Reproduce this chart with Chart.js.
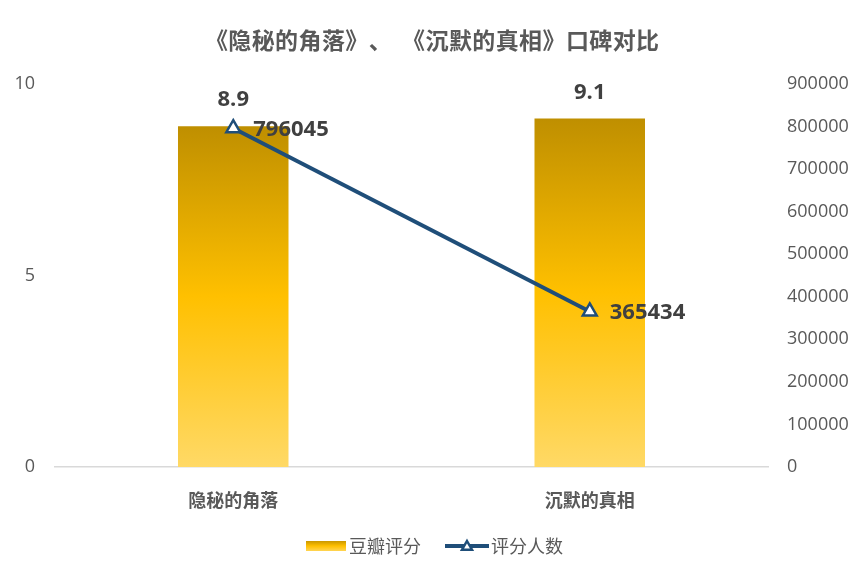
<!DOCTYPE html>
<html>
<head>
<meta charset="utf-8">
<script src="https://cdn.jsdelivr.net/npm/chart.js@4"></script>
<style>
html,body{margin:0;padding:0;background:#fff;}
#wrap{width:865px;height:577px;}
</style>
</head>
<body>
<div id="wrap"><canvas id="c" width="865" height="577"></canvas></div>
<script>
const titleText = '《隐秘的角落》、《沉默的真相》口碑对比';
const categories = ['隐秘的角落', '沉默的真相'];
const doubanScores = [8.9, 9.1];
const ratingCounts = [796045, 365434];
const seriesNames = ['豆瓣评分', '评分人数'];
const leftTicks = [0, 5, 10];
const rightMax = 900000;
const rightStep = 100000;

const FONT = '"Noto Sans CJK SC", "Noto Sans", sans-serif';
const NUMFONT = '"Open Sans", "Noto Sans CJK SC", sans-serif';
const LINE_COLOR = '#1F4E79';

function barGradient(ctx, yTop, yBottom) {
  const g = ctx.createLinearGradient(0, yTop, 0, yBottom);
  g.addColorStop(0, '#BF8F00');
  g.addColorStop(0.5, '#FFC000');
  g.addColorStop(1, '#FFD966');
  return g;
}

// draw CJK title with full-width advance for every character (no punctuation squeezing)
function drawFullWidthText(ctx, text, centerX, y, adv, extraAfter) {
  const chars = Array.from(text);
  let total = chars.length * adv;
  chars.forEach(ch => { if (extraAfter[ch]) total += extraAfter[ch]; });
  let x = centerX - total / 2;
  ctx.textAlign = 'center';
  chars.forEach(ch => {
    ctx.fillText(ch, x + adv / 2, y);
    x += adv + (extraAfter[ch] || 0);
  });
}

const overlayPlugin = {
  id: 'overlay',
  afterDraw(chart) {
    const ctx = chart.ctx;
    ctx.save();
    // title
    ctx.font = 'bold 23px ' + FONT;
    ctx.fillStyle = '#595959';
    ctx.textBaseline = 'middle';
    drawFullWidthText(ctx, titleText, 432, 40, 23.4, { '、': 10 });

    // bar labels
    const barMeta = chart.getDatasetMeta(0);
    ctx.font = 'bold 22px ' + NUMFONT;
    ctx.fillStyle = '#404040';
    barMeta.data.forEach((el, i) => {
      ctx.textAlign = 'center';
      ctx.textBaseline = 'middle';
      ctx.fillText(String(doubanScores[i]), el.x, el.y - 26);
    });
    // line labels
    const lineMeta = chart.getDatasetMeta(1);
    lineMeta.data.forEach((el, i) => {
      ctx.textAlign = 'left';
      ctx.textBaseline = 'middle';
      ctx.fillText(String(ratingCounts[i]), el.x + 20, el.y + 1);
    });

    // legend
    const ly = 546;
    const sx = 306, sw = 40, sh = 12;
    ctx.fillStyle = barGradient(ctx, ly - sh/2, ly + sh/2);
    ctx.fillRect(sx, ly - sh/2 + 1, sw, sh - 2);
    ctx.font = '18px ' + FONT;
    ctx.fillStyle = '#595959';
    ctx.textAlign = 'left';
    ctx.textBaseline = 'middle';
    ctx.fillText(seriesNames[0], sx + sw + 3, ly);
    const lx = 445, lw = 44;
    ctx.strokeStyle = LINE_COLOR;
    ctx.lineWidth = 4;
    ctx.beginPath();
    ctx.moveTo(lx, ly);
    ctx.lineTo(lx + lw, ly);
    ctx.stroke();
    const cx = lx + lw/2, r = 5;
    ctx.beginPath();
    ctx.moveTo(cx, ly - r);
    ctx.lineTo(cx + r, ly + r*0.75);
    ctx.lineTo(cx - r, ly + r*0.75);
    ctx.closePath();
    ctx.fillStyle = '#fff';
    ctx.fill();
    ctx.lineWidth = 2.5;
    ctx.stroke();
    ctx.fillStyle = '#595959';
    ctx.fillText(seriesNames[1], lx + lw + 2, ly);
    ctx.restore();
  }
};

new Chart(document.getElementById('c'), {
  data: {
    labels: categories,
    datasets: [
      {
        type: 'bar',
        label: seriesNames[0],
        data: doubanScores,
        yAxisID: 'y',
        order: 2,
        barPercentage: 0.62,
        categoryPercentage: 0.5,
        backgroundColor(context) {
          const chart = context.chart;
          const ca = chart.chartArea;
          if (!ca) return '#FFC000';
          const v = context.raw;
          const yTop = chart.scales.y.getPixelForValue(v);
          return barGradient(chart.ctx, yTop, ca.bottom);
        },
        borderWidth: 0
      },
      {
        type: 'line',
        label: seriesNames[1],
        data: ratingCounts,
        yAxisID: 'y1',
        order: 1,
        borderColor: LINE_COLOR,
        borderWidth: 4,
        pointStyle: 'triangle',
        pointRadius: 8,
        pointBackgroundColor: '#fff',
        pointBorderColor: LINE_COLOR,
        pointBorderWidth: 2.5,
        tension: 0
      }
    ]
  },
  options: {
    responsive: false,
    animation: false,
    devicePixelRatio: 1,
    layout: { padding: { top: 84, bottom: 0, left: 0, right: 0 } },
    plugins: {
      legend: { display: false },
      title: { display: false },
      tooltip: { enabled: false }
    },
    scales: {
      x: {
        grid: { display: false, drawTicks: false },
        border: { display: true, color: '#D9D9D9', width: 1.5 },
        ticks: {
          color: '#595959',
          font: { family: FONT, size: 18, weight: 'bold' },
          padding: 22
        },
        afterFit(scale) { scale.height = 110; }
      },
      y: {
        position: 'left',
        min: 0,
        max: 10,
        afterBuildTicks(scale) { scale.ticks = leftTicks.map(v => ({ value: v })); },
        grid: { display: false, drawTicks: false },
        border: { display: false },
        ticks: {
          color: '#595959',
          font: { family: NUMFONT, size: 18 },
          padding: 20
        },
        afterFit(scale) { scale.width = 55; }
      },
      y1: {
        position: 'right',
        min: 0,
        max: rightMax,
        grid: { display: false, drawTicks: false },
        border: { display: false },
        ticks: {
          stepSize: rightStep,
          color: '#595959',
          font: { family: NUMFONT, size: 18 },
          padding: 19,
          callback: (v) => String(v)
        },
        afterFit(scale) { scale.width = 97; }
      }
    }
  },
  plugins: [overlayPlugin]
});
</script>
</body>
</html>
